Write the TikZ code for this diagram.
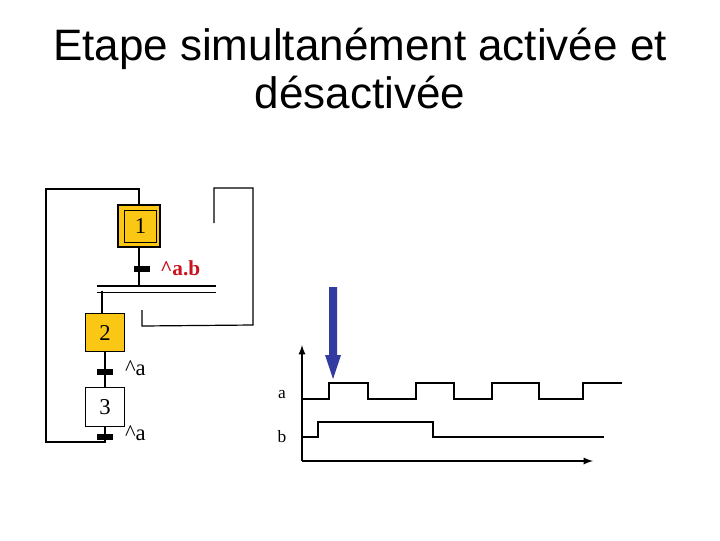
\documentclass[tikz,border=0pt]{standalone}
\usepackage{fontspec}
\setmainfont{Liberation Serif}
\newfontfamily\titlefont{Liberation Sans}
\definecolor{stepgold}{RGB}{250,200,20}
\definecolor{arrowblue}{RGB}{50,60,160}
\definecolor{labelred}{RGB}{200,20,30}
\begin{document}
\begin{tikzpicture}[x=0.75pt,y=-0.75pt,line width=0.9pt]
    \useasboundingbox (0,0) rectangle (720,540);
    % Title
    \node [font=\titlefont\fontsize{33}{36}\selectfont, align=center] (title) at (360,69) {Etape simultanément activée et\\désactivée};

    % Steps
    \node [rectangle, draw, fill=stepgold, minimum size=31.5pt, inner sep=0pt] (s1) at (139,226) {};
    \node [rectangle, draw, minimum size=24.5pt, font=\fontsize{17}{17}\selectfont] (s1in) at (140.5,226.5) {1};
    \node [rectangle, draw, fill=stepgold, minimum size=29pt, inner sep=0pt, font=\fontsize{17}{17}\selectfont] (s2) at (105,332.5) {2};
    \node [rectangle, draw, fill=white, minimum size=29pt, inner sep=0pt, font=\fontsize{17}{17}\selectfont] (s3) at (105,407) {3};

    % Transitions
    \draw [line width=4pt] (134,269) -- (150,269);
    \draw [line width=4pt] (97,372) -- (113,372);
    \draw [line width=4pt] (97,437) -- (113,437);
    \node [anchor=west, text=labelred, font=\bfseries\fontsize{16}{16}\selectfont] (t1) at (155,268) {\textasciicircum a.b};
    \node [anchor=west, font=\fontsize{17}{17}\selectfont] (t2) at (120,368) {\textasciicircum a};
    \node [anchor=west, font=\fontsize{17}{17}\selectfont] (t3) at (120,433) {\textasciicircum a};

    % Double bar
    \coordinate (barL) at (97,286);
    \coordinate (barR) at (216,286);
    \draw (barL) -- (barR);
    \draw ([yshift=-5pt*0.75*1.33]barL) -- ([yshift=-5pt*0.75*1.33]barR);

    % Links
    \draw (s1.south) -- (139,286);
    \draw (102,291) -- (102,313);
    \draw (s2.south) -- (s3.north);
    \draw (s3.south) -- (105,442) -- (46,442) -- (46,189) -| (s1.north);
    \draw (142,310) -- (142,326) -- (253,325) -- (253,188) -- (214,188) -- (214,223);

    % Chronogram
    \coordinate (orig) at (302,461);
    \draw [line width=1.4pt, -latex] (orig) -- (302,345);
    \draw [line width=1.4pt, -latex] (orig) -- (593,461);
    \node [font=\fontsize{13}{13}\selectfont] (la) at (282,395) {a};
    \node [font=\fontsize{13}{13}\selectfont] (lb) at (282,437) {b};
    \draw (302,399) -- (329,399) -- (329,383) -- (368,383) -- (368,399) -- (416,399) -- (416,383)
          -- (454,383) -- (454,399) -- (492,399) -- (492,383) -- (539,383) -- (539,399)
          -- (583,399) -- (583,383) -- (622,383);
    \draw (302,437) -- (318,437) -- (318,422) -- (433,422) -- (433,437) -- (604,437);

    % Blue arrow
    \coordinate (bluetop) at (333,287);
    \coordinate (bluetip) at (333,379);
    \fill [arrowblue] (329,287) -- (337,287) -- (337,355) -- (341,355) -- (bluetip) -- (325,355) -- (329,355) -- cycle;
\end{tikzpicture}
\end{document}
